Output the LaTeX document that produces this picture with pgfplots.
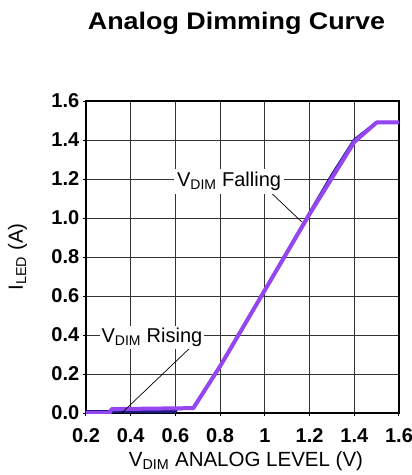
\documentclass[border=0pt]{standalone}
\usepackage{fontspec}
\setmainfont{Liberation Sans}
\usepackage{pgfplots}
\usepackage{pgfplotstable}
\pgfplotsset{compat=1.18}
\definecolor{rising}{RGB}{150,70,240}
\definecolor{falling}{RGB}{25,25,130}

% V_DIM rising
\pgfplotstableread{
x y
0.20 0.000
0.305 0.000
0.315 0.020
0.68 0.025
0.80 0.24
1.00 0.63
1.20 1.02
1.40 1.39
1.50 1.49
1.60 1.49
}\risingdata

% V_DIM falling
\pgfplotstableread{
x y
0.20 0.007
0.60 0.007
0.605 0.022
0.68 0.025
0.80 0.24
1.00 0.63
1.20 1.025
1.30 1.22
1.40 1.40
1.50 1.49
1.60 1.49
}\fallingdata

\begin{document}
\begin{tikzpicture}
\begin{axis}[
  at={(0,0)}, anchor=south west,
  scale only axis,
  width=313pt, height=312pt,
  xmin=0.2, xmax=1.6, ymin=0, ymax=1.6,
  xtick={0.2,0.4,0.6,0.8,1.0,1.2,1.4,1.6},
  xticklabels={0.2,0.4,0.6,0.8,1,1.2,1.4,1.6},
  ytick={0,0.2,0.4,0.6,0.8,1.0,1.2,1.4,1.6},
  yticklabels={0.0,0.2,0.4,0.6,0.8,1.0,1.2,1.4,1.6},
  tick label style={font=\fontsize{20}{22}\selectfont\bfseries},
  yticklabel style={inner sep=0pt, xshift=-4pt},
  xticklabel style={inner sep=0pt, yshift=-13pt},
  tick align=outside,
  major tick length=2.5pt,
  xtick pos=bottom, ytick pos=left,
  tick style={black, line width=1pt},
  grid=major,
  grid style={black!80, line width=1pt},
  axis line style={black, line width=1.5pt},
]
\addplot[falling, line width=3pt, line join=round] table {\fallingdata};
\addplot[rising, line width=4pt, line join=round] table {\risingdata};

\draw[black, line width=0.7pt] (axis cs:1.00,1.16) -- (axis cs:1.165,0.98);
\draw[black, line width=0.7pt] (axis cs:0.68,0.35) -- (axis cs:0.36,0.0);
\node[fill=white, inner sep=3pt, anchor=base, font=\fontsize{20}{22}\selectfont]
  at (axis cs:0.84,1.16) {V\textsubscript{DIM} Falling};
\node[fill=white, inner sep=2pt, anchor=base, font=\fontsize{20}{22}\selectfont]
  at (axis cs:0.495,0.36) {V\textsubscript{DIM} Rising};
\end{axis}

\node[anchor=base] at (150.5pt,384pt)
  {\scalebox{1.12}[1]{\fontsize{24}{26}\selectfont\bfseries Analog Dimming Curve}};
\node[anchor=base, font=\fontsize{20.5}{22}\selectfont] at (160pt,-53pt)
  {V\textsubscript{DIM} ANALOG LEVEL (V)};
\node[anchor=base, rotate=90, font=\fontsize{20.5}{22}\selectfont] at (-63pt,156pt)
  {I\textsubscript{LED} (A)};

\pgfresetboundingbox
\path[use as bounding box] (-86pt,-62pt) rectangle (326pt,413pt);
\end{tikzpicture}
\end{document}
